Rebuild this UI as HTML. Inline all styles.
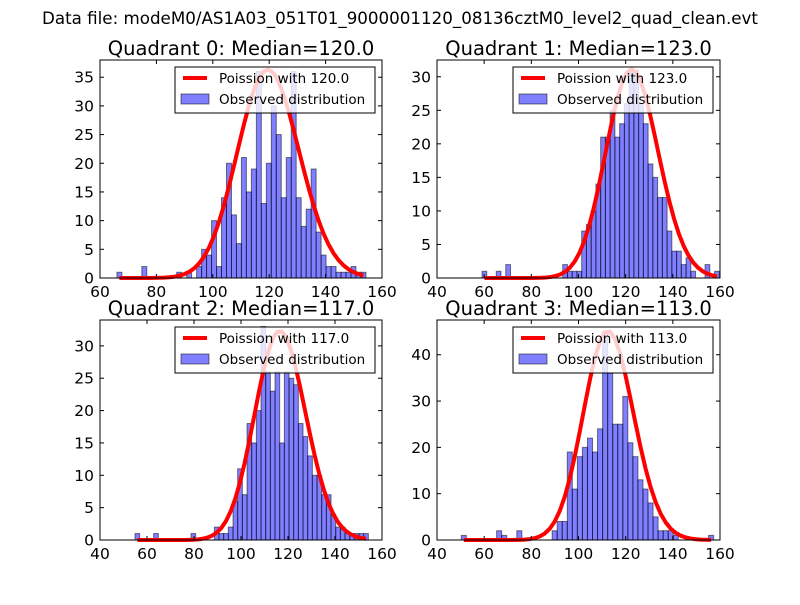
<!DOCTYPE html>
<html><head><meta charset="utf-8"><style>
body{margin:0;background:#fff;}
svg text{font-family:"DejaVu Sans","Liberation Sans",sans-serif;}
</style></head><body>
<svg id="c" width="800" height="600" xmlns="http://www.w3.org/2000/svg">
<rect width="800" height="600" fill="#fff"/>
<text x="400" y="24" text-anchor="middle" font-size="16.7">Data file: modeM0/AS1A03_051T01_9000001120_08136cztM0_level2_quad_clean.evt</text>
</svg>
<script>
const quadrants = ["Quadrant 0", "Quadrant 1", "Quadrant 2", "Quadrant 3"];
const medians = [120.0, 123.0, 117.0, 113.0];
const binMin = [66.0, 59.1, 54.9, 50.3];
const binMax = [154.3, 159.7, 154.2, 157.3];
const counts0 = [1,0,0,0,0,2,0,0,0,0,0,0,1,0,1,0,2,5,4,10,2,14,20,11,6,21,15,19,36,13,20,30,25,14,21,36,14,9,12,19,8,4,2,2,1,1,1,2,1,1];
const counts1 = [1,0,0,1,0,2,0,0,0,0,0,0,0,0,0,0,0,2,1,1,1,7,8,10,14,21,21,25,21,23,26,31,31,26,23,17,15,12,12,7,4,4,2,3,1,0,0,2,0,1];
const counts2 = [1,0,0,0,1,0,0,0,0,0,0,0,1,0,0,0,0,2,1,1,2,6,11,7,18,15,20,33,26,23,26,15,26,25,24,18,16,13,10,10,7,7,4,2,2,1,1,1,1,1];
const counts3 = [1,0,0,0,0,0,0,2,1,0,0,2,0,0,0,0,0,0,2,4,4,19,11,18,20,22,19,24,45,36,25,25,31,21,18,13,11,8,5,2,2,2,1,0,0,0,0,0,0,1];
const curvePeak = [36.3, 31.1, 32.3, 45.1];
const xLims = [[60,160],[40,160],[40,160],[40,160]];
const yLims = [38, 32.5, 34, 47.5];
const xTicks = [[60,80,100,120,140,160],[40,60,80,100,120,140,160],[40,60,80,100,120,140,160],[40,60,80,100,120,140,160]];
const yTicks = [[0,5,10,15,20,25,30,35],[0,5,10,15,20,25,30],[0,5,10,15,20,25,30],[0,10,20,30,40]];
const allCounts = [counts0, counts1, counts2, counts3];
const frames = [{l:100,r:382,t:60,b:278},{l:437,r:720,t:60,b:278},{l:100,r:382,t:320,b:540},{l:437,r:720,t:320,b:540}];

const NS = "http://www.w3.org/2000/svg";
const svg = document.getElementById('c');
function mk(tag, attrs, parent){const e=document.createElementNS(NS,tag);for(const k in attrs)e.setAttribute(k,attrs[k]);(parent||svg).appendChild(e);return e;}
function lgamma(z){
  const g=7,c=[0.99999999999980993,676.5203681218851,-1259.1392167224028,771.32342877765313,-176.61502916214059,12.507343278686905,-0.13857109526572012,9.9843695780195716e-6,1.5056327351493116e-7];
  z-=1;let x=c[0];for(let i=1;i<g+2;i++)x+=c[i]/(z+i);const t=z+g+0.5;
  return 0.5*Math.log(2*Math.PI)+(z+0.5)*Math.log(t)-t+Math.log(x);}
function logPmf(k,lam){return k*Math.log(lam)-lam-lgamma(k+1);}

for(let p=0;p<4;p++){
  const f=frames[p], xl=xLims[p], yl=yLims[p], data=allCounts[p];
  const g=mk('g',{});
  
  
  const X=v=>f.l+(v-xl[0])/(xl[1]-xl[0])*(f.r-f.l);
  const Y=v=>f.b-v/yl*(f.b-f.t);
  const n=data.length, w=(binMax[p]-binMin[p])/n;
  for(let i=0;i<n;i++){
    if(data[i]<=0)continue;
    const x0=X(binMin[p]+i*w), x1=X(binMin[p]+(i+1)*w);
    const r=mk('rect',{x:x0,y:Y(data[i]),width:x1-x0,height:Y(0)-Y(data[i]),fill:'rgba(0,0,255,0.5)',stroke:'rgba(0,0,0,0.5)','stroke-width':1},g);
    
    
  }
  const lam=medians[p], ref=logPmf(lam,lam);
  let d='';
  for(let i=0;i<n;i++){
    const c=binMin[p]+(i+0.5)*w;
    const v=curvePeak[p]*Math.exp(logPmf(c,lam)-ref);
    d+=(i?'L':'M')+X(c).toFixed(2)+','+Y(v).toFixed(2);
  }
  const cv=mk('path',{d:d,fill:'none',stroke:'#ff0000','stroke-width':4,'stroke-linejoin':'round'},g);
  
  
  const fr=mk('rect',{x:f.l,y:f.t,width:f.r-f.l,height:f.b-f.t,fill:'none',stroke:'#000','stroke-width':1},g);
  
  
  xTicks[p].forEach(t=>{
    const x=X(t);
    mk('line',{x1:x,x2:x,y1:f.b,y2:f.b-4,stroke:'#000'},g);
    mk('line',{x1:x,x2:x,y1:f.t,y2:f.t+4,stroke:'#000'},g);
    const tx=mk('text',{x:x,y:f.b+19,'text-anchor':'middle','font-size':15.5},g);
    tx.textContent=t;
    
    
  });
  yTicks[p].forEach(t=>{
    const y=Y(t);
    mk('line',{x1:f.l,x2:f.l+4,y1:y,y2:y,stroke:'#000'},g);
    mk('line',{x1:f.r,x2:f.r-4,y1:y,y2:y,stroke:'#000'},g);
    const tx=mk('text',{x:f.l-6,y:y+5.5,'text-anchor':'end','font-size':15.5},g);
    tx.textContent=t;
    
    
  });
  const ti=mk('text',{x:(f.l+f.r)/2,y:f.t-5,'text-anchor':'middle','font-size':19.5},g);
  ti.textContent=quadrants[p]+': Median='+medians[p].toFixed(1);
  
  
  const lx=f.r-207, ly=f.t+7;
  const lg=mk('g',{},g);
  
  
  mk('rect',{x:lx,y:ly,width:200,height:46,fill:'rgba(255,255,255,0.8)',stroke:'#000','stroke-width':1},lg);
  mk('line',{x1:lx+8,x2:lx+32,y1:ly+11,y2:ly+11,stroke:'#ff0000','stroke-width':4},lg);
  const t1=mk('text',{x:lx+44,y:ly+16,'font-size':13.5},lg);
  t1.textContent='Poission with '+medians[p].toFixed(1);
  
  
  mk('rect',{x:lx+6,y:ly+27,width:28,height:10,fill:'rgba(0,0,255,0.5)',stroke:'rgba(0,0,0,0.5)'},lg);
  const t2=mk('text',{x:lx+44,y:ly+37,'font-size':13.5},lg);
  t2.textContent='Observed distribution';
  
  
}
</script>
</body></html>
